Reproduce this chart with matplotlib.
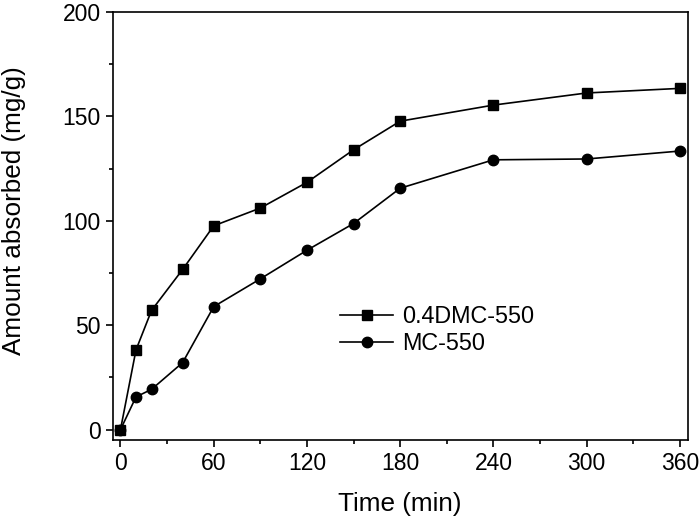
import matplotlib
matplotlib.use("Agg")
import matplotlib.pyplot as plt
from matplotlib.ticker import MultipleLocator

# data
time_min = [0, 10, 20, 40, 60, 90, 120, 150, 180, 240, 300, 360]
dmc_550 = [0, 38.2, 57.1, 76.7, 97.6, 106.1, 118.4, 134.0, 147.7, 155.4, 161.2, 163.4]
mc_550 = [0, 15.7, 19.3, 32.1, 58.9, 72.2, 85.9, 98.7, 115.6, 129.2, 129.6, 133.4]
x_ticks = [0, 60, 120, 180, 240, 300, 360]
y_ticks = [0, 50, 100, 150, 200]

plt.rcParams['font.family'] = ['Liberation Sans', 'DejaVu Sans']

fig = plt.figure(figsize=(7, 5.19), dpi=100)
ax = fig.add_axes([0.161, 0.152, 0.8214, 0.825])

ax.plot(time_min, dmc_550, color='black', lw=1.2, marker='s', markersize=6.5,
        label='0.4DMC-550')
ax.plot(time_min, mc_550, color='black', lw=1.2, marker='o', markersize=7.5,
        label='MC-550')

ax.set_xlim(-5, 365)
ax.set_ylim(-5, 200)
ax.set_xticks(x_ticks)
ax.set_yticks(y_ticks)
ax.xaxis.set_minor_locator(MultipleLocator(30))
ax.yaxis.set_minor_locator(MultipleLocator(25))
ax.tick_params(which='major', direction='out', length=5, width=1.2, labelsize=16.5)
ax.tick_params(which='minor', direction='out', length=3, width=1.2)
for s in ax.spines.values():
    s.set_linewidth(1.2)

ax.set_xlabel('Time (min)', fontsize=18.8, labelpad=12)
ax.set_ylabel('Amount absorbed (mg/g)', fontsize=18.8)
# label sits a bit above the axes centre in the original
ax.yaxis.set_label_coords(-0.151, 0.535)

ax.legend(loc='center left', bbox_to_anchor=(0.395, 0.257), frameon=False,
          fontsize=16.8, handlelength=2.3, handletextpad=0.35,
          borderpad=0, borderaxespad=0, labelspacing=0.2)

fig.savefig('out.png', dpi=100)
